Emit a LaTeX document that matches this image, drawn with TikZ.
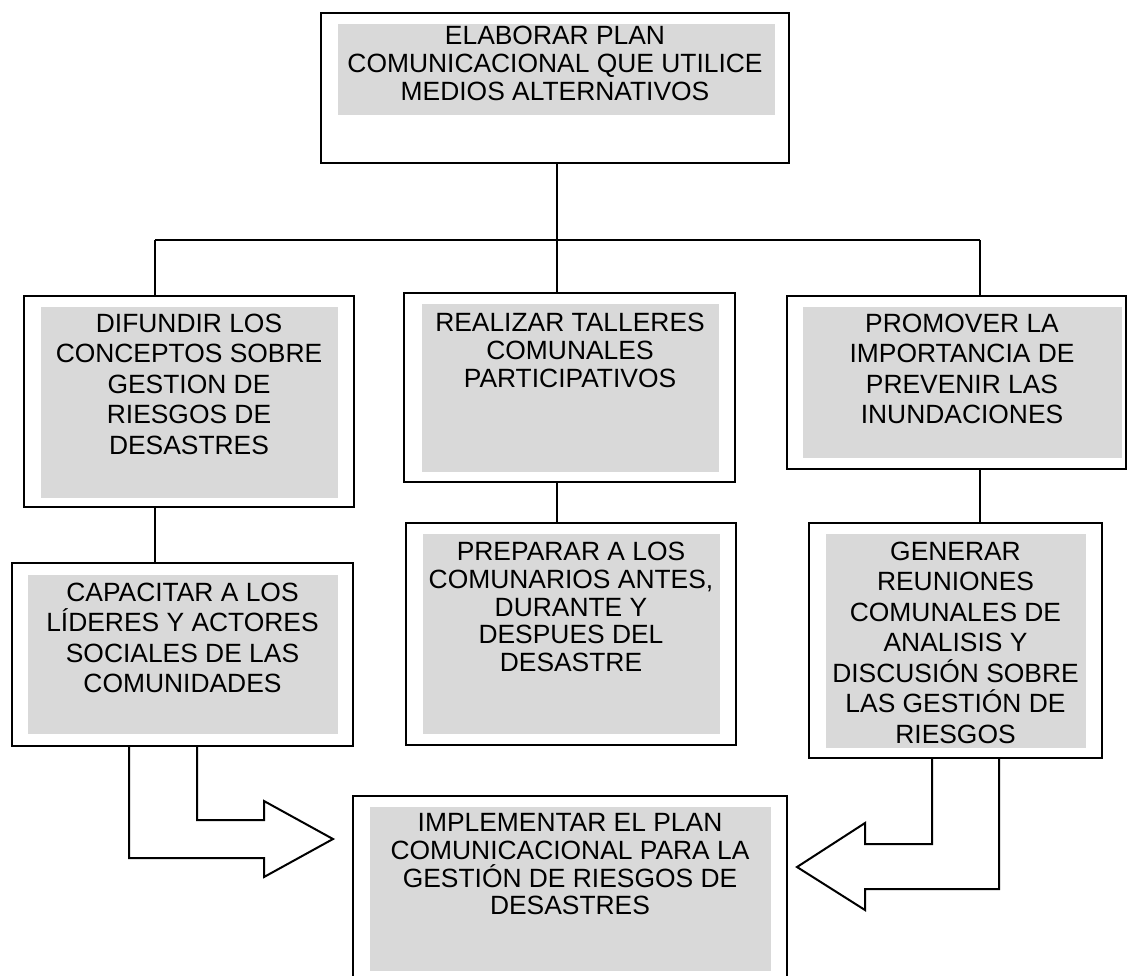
\documentclass[tikz,border=0pt]{standalone}
\usepackage{fontspec}
\setmainfont{Liberation Sans}
\usetikzlibrary{fit}
\definecolor{boxgray}{RGB}{217,217,217}
\begin{document}
\begin{tikzpicture}[x=0.5pt,y=-0.5pt,
  outerbox/.style={draw=black,line width=1pt,fill=white,inner sep=0pt,outer sep=0pt},
  greyfill/.style={fill=boxgray},
  smalltxt/.style={font=\fontsize{13.2pt}{13.9pt}\selectfont,align=center,inner sep=0pt,anchor=north},
  largetxt/.style={font=\fontsize{13.2pt}{15.25pt}\selectfont,align=center,inner sep=0pt,anchor=north},
  link/.style={line width=0.9pt},
  bigarrow/.style={line width=1pt,line join=miter}]
\useasboundingbox (0,0) rectangle (1127,975);

% outer boxes
\node[outerbox, fit={(321,13) (789,163)}] (T) {};
\node[outerbox, fit={(24,296) (354,507)}] (L1) {};
\node[outerbox, fit={(404,293) (735,482)}] (M1) {};
\node[outerbox, fit={(787,296) (1126,469)}] (R1) {};
\node[outerbox, fit={(12,563) (353,746)}] (L2) {};
\node[outerbox, fit={(406,523) (736,745)}] (M2) {};
\node[outerbox, fit={(809,523) (1102,758)}] (R2) {};
\node[outerbox, fit={(353,796) (787,995)}] (B) {};

% grey fills
\fill[greyfill] (338,24) rectangle (775,115);
\fill[greyfill] (41,307) rectangle (338,498);
\fill[greyfill] (422,304) rectangle (719,472);
\fill[greyfill] (803,307) rectangle (1122,458);
\fill[greyfill] (28,575) rectangle (338,734);
\fill[greyfill] (423,534) rectangle (720,734);
\fill[greyfill] (826,534) rectangle (1086,748);
\fill[greyfill] (370,807) rectangle (771,971);

% texts
\node[smalltxt] (Tt) at (555,20.3) {\rule{0pt}{12pt}ELABORAR PLAN\\COMUNICACIONAL QUE UTILICE\\MEDIOS ALTERNATIVOS};
\node[largetxt] (L1t) at (189,308) {\rule{0pt}{12pt}DIFUNDIR LOS\\CONCEPTOS SOBRE\\GESTION DE\\RIESGOS DE\\DESASTRES};
\node[smalltxt] (M1t) at (570,307) {\rule{0pt}{12pt}REALIZAR TALLERES\\COMUNALES\\PARTICIPATIVOS};
\node[largetxt] (R1t) at (962,308) {\rule{0pt}{12pt}PROMOVER LA\\IMPORTANCIA DE\\PREVENIR LAS\\INUNDACIONES};
\node[largetxt] (L2t) at (182.5,576.7) {\rule{0pt}{12pt}CAPACITAR A LOS\\LÍDERES Y ACTORES\\SOCIALES DE LAS\\COMUNIDADES};
\node[smalltxt] (M2t) at (571,536) {\rule{0pt}{12pt}PREPARAR A LOS\\COMUNARIOS ANTES,\\DURANTE Y\\DESPUES DEL\\DESASTRE};
\node[largetxt] (R2t) at (955.5,536) {\rule{0pt}{12pt}GENERAR\\REUNIONES\\COMUNALES DE\\ANALISIS Y\\DISCUSIÓN SOBRE\\LAS GESTIÓN DE\\RIESGOS};
\node[smalltxt] (Bt) at (570,807) {\rule{0pt}{12pt}IMPLEMENTAR EL PLAN\\COMUNICACIONAL PARA LA\\GESTIÓN DE RIESGOS DE\\DESASTRES};

% connectors
\coordinate (j) at (557,240);
\coordinate (jl) at (155,240);
\coordinate (jr) at (980,240);
\draw[link] (T.south -| j) -- (j);
\draw[link] (jl) -- (jr);
\draw[link] (jl) -- (jl |- L1.north);
\draw[link] (j) -- (j |- M1.north);
\draw[link] (jr) -- (jr |- R1.north);
\draw[link] (L1.south -| jl) -- (L2.north -| jl);
\draw[link] (M1.south -| j) -- (M2.north -| j);
\draw[link] (R1.south -| jr) -- (R2.north -| jr);

% block arrows
\draw[bigarrow] ([xshift=-26.75pt]L2.south) -- (129,858) -- (264,858) -- (264,877) -- (333,839)
  -- (264,801) -- (264,820) -- (197,820) -- ([xshift=7.25pt]L2.south);
\draw[bigarrow] ([xshift=-11.75pt]R2.south) -- (932,844) -- (865,844) -- (865,823) -- (797,867)
  -- (865,910) -- (865,889) -- (999,889) -- ([xshift=21.75pt]R2.south);
\end{tikzpicture}
\end{document}
